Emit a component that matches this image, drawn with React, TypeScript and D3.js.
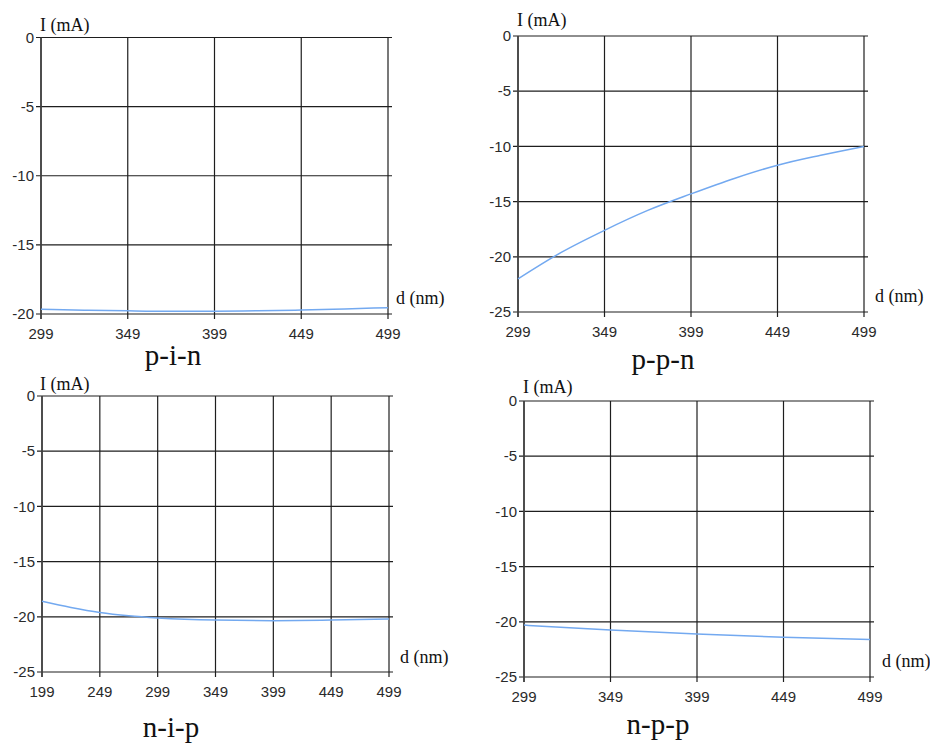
import React from "react";
import * as d3 from "d3";

// ---- data ----
const pinD = [299, 324, 349, 374, 399, 424, 449, 474, 499];
const pinI = [-19.65, -19.72, -19.77, -19.8, -19.8, -19.77, -19.71, -19.63, -19.54];

const ppnD = [299, 324, 349, 374, 399, 424, 449, 474, 499];
const ppnI = [-22.0, -19.6, -17.6, -15.8, -14.3, -12.9, -11.7, -10.8, -10.0];

const nipD = [199, 224, 249, 274, 299, 349, 399, 449, 499];
const nipI = [-18.6, -19.15, -19.6, -19.9, -20.1, -20.3, -20.35, -20.3, -20.2];

const nppD = [299, 349, 399, 449, 499];
const nppI = [-20.3, -20.75, -21.1, -21.4, -21.6];

const xTicksA = [299, 349, 399, 449, 499];
const xTicksB = [199, 249, 299, 349, 399, 449, 499];
const yTicks20 = [0, -5, -10, -15, -20];
const yTicks25 = [0, -5, -10, -15, -20, -25];

const titles = ["p-i-n", "p-p-n", "n-i-p", "n-p-p"];
const yLabel = "I (mA)";
const xLabel = "d (nm)";

type PanelProps = {
  x0: number; x1: number; yTop: number; yBot: number;
  xDomain: [number, number]; yDomain: [number, number];
  xTicks: number[]; yTicks: number[];
  xs: number[]; ys: number[];
  title: string; titleX: number; titleY: number;
  ylabX: number; ylabY: number; xlabX: number; xlabY: number;
};

const GRID = "#1e1e1e";
const LINE = "#73a9f0";
const SANS = "'Liberation Sans', Arial, sans-serif";
const SERIF = "'Liberation Serif', 'Times New Roman', serif";

function Panel(p: PanelProps) {
  const x = d3.scaleLinear().domain(p.xDomain).range([p.x0, p.x1]);
  const y = d3.scaleLinear().domain(p.yDomain).range([p.yBot, p.yTop]);
  const pts = p.xs.map((d, i) => [d, p.ys[i]] as [number, number]);
  const line = d3.line<[number, number]>()
    .x((d) => x(d[0]))
    .y((d) => y(d[1]))
    .curve(d3.curveMonotoneX);
  return (
    <g>
      {p.yTicks.map((t) => (
        <g key={"y" + t}>
          <line x1={p.x0 - 5} x2={p.x1 + 4} y1={y(t)} y2={y(t)} stroke={GRID} strokeWidth={1.2} />
          <text x={p.x0 - 7} y={y(t)} dy="0.35em" textAnchor="end"
            style={{ fontFamily: SANS }} fontSize={15} fill="#2a2a2a">{t}</text>
        </g>
      ))}
      {p.xTicks.map((t) => (
        <g key={"x" + t}>
          <line x1={x(t)} x2={x(t)} y1={p.yTop} y2={p.yBot + 5} stroke={GRID} strokeWidth={1.2} />
          <text x={x(t)} y={p.yBot + 25} textAnchor="middle"
            style={{ fontFamily: SANS }} fontSize={15} fill="#2a2a2a">{t}</text>
        </g>
      ))}
      <line x1={p.x0} x2={p.x0} y1={p.yTop} y2={p.yBot + 5} stroke="#444" strokeWidth={1.6} />
      <path d={line(pts) || ""} fill="none" stroke={LINE} strokeWidth={1.5} />
      <text x={p.ylabX} y={p.ylabY} style={{ fontFamily: SERIF }} fontSize={18} fill="#111">{yLabel}</text>
      <text x={p.xlabX} y={p.xlabY} style={{ fontFamily: SERIF }} fontSize={18} fill="#111">{xLabel}</text>
      <text x={p.titleX} y={p.titleY} textAnchor="middle" style={{ fontFamily: SERIF }} fontSize={29} fill="#111">{p.title}</text>
    </g>
  );
}

export default function App() {
  return (
    <svg width={930} height={743} style={{ position: "absolute", left: 0, top: 0, background: "#fff" }}>
      <rect width={930} height={743} fill="#fff" />
      <Panel x0={41} x1={388} yTop={37.5} yBot={314} xDomain={[299, 499]} yDomain={[-20, 0]}
        xTicks={xTicksA} yTicks={yTicks20} xs={pinD} ys={pinI}
        title={titles[0]} titleX={173} titleY={365}
        ylabX={40} ylabY={31} xlabX={396} xlabY={304} />
      <Panel x0={518} x1={864} yTop={36} yBot={312} xDomain={[299, 499]} yDomain={[-25, 0]}
        xTicks={xTicksA} yTicks={yTicks25} xs={ppnD} ys={ppnI}
        title={titles[1]} titleX={663} titleY={369}
        ylabX={517} ylabY={26} xlabX={875} xlabY={302} />
      <Panel x0={42} x1={389} yTop={396} yBot={672} xDomain={[199, 499]} yDomain={[-25, 0]}
        xTicks={xTicksB} yTicks={yTicks25} xs={nipD} ys={nipI}
        title={titles[2]} titleX={171} titleY={737}
        ylabX={40} ylabY={390} xlabX={400} xlabY={663} />
      <Panel x0={524} x1={870} yTop={401} yBot={677} xDomain={[299, 499]} yDomain={[-25, 0]}
        xTicks={xTicksA} yTicks={yTicks25} xs={nppD} ys={nppI}
        title={titles[3]} titleX={658} titleY={734}
        ylabX={523} ylabY={393} xlabX={882} xlabY={667} />
    </svg>
  );
}
